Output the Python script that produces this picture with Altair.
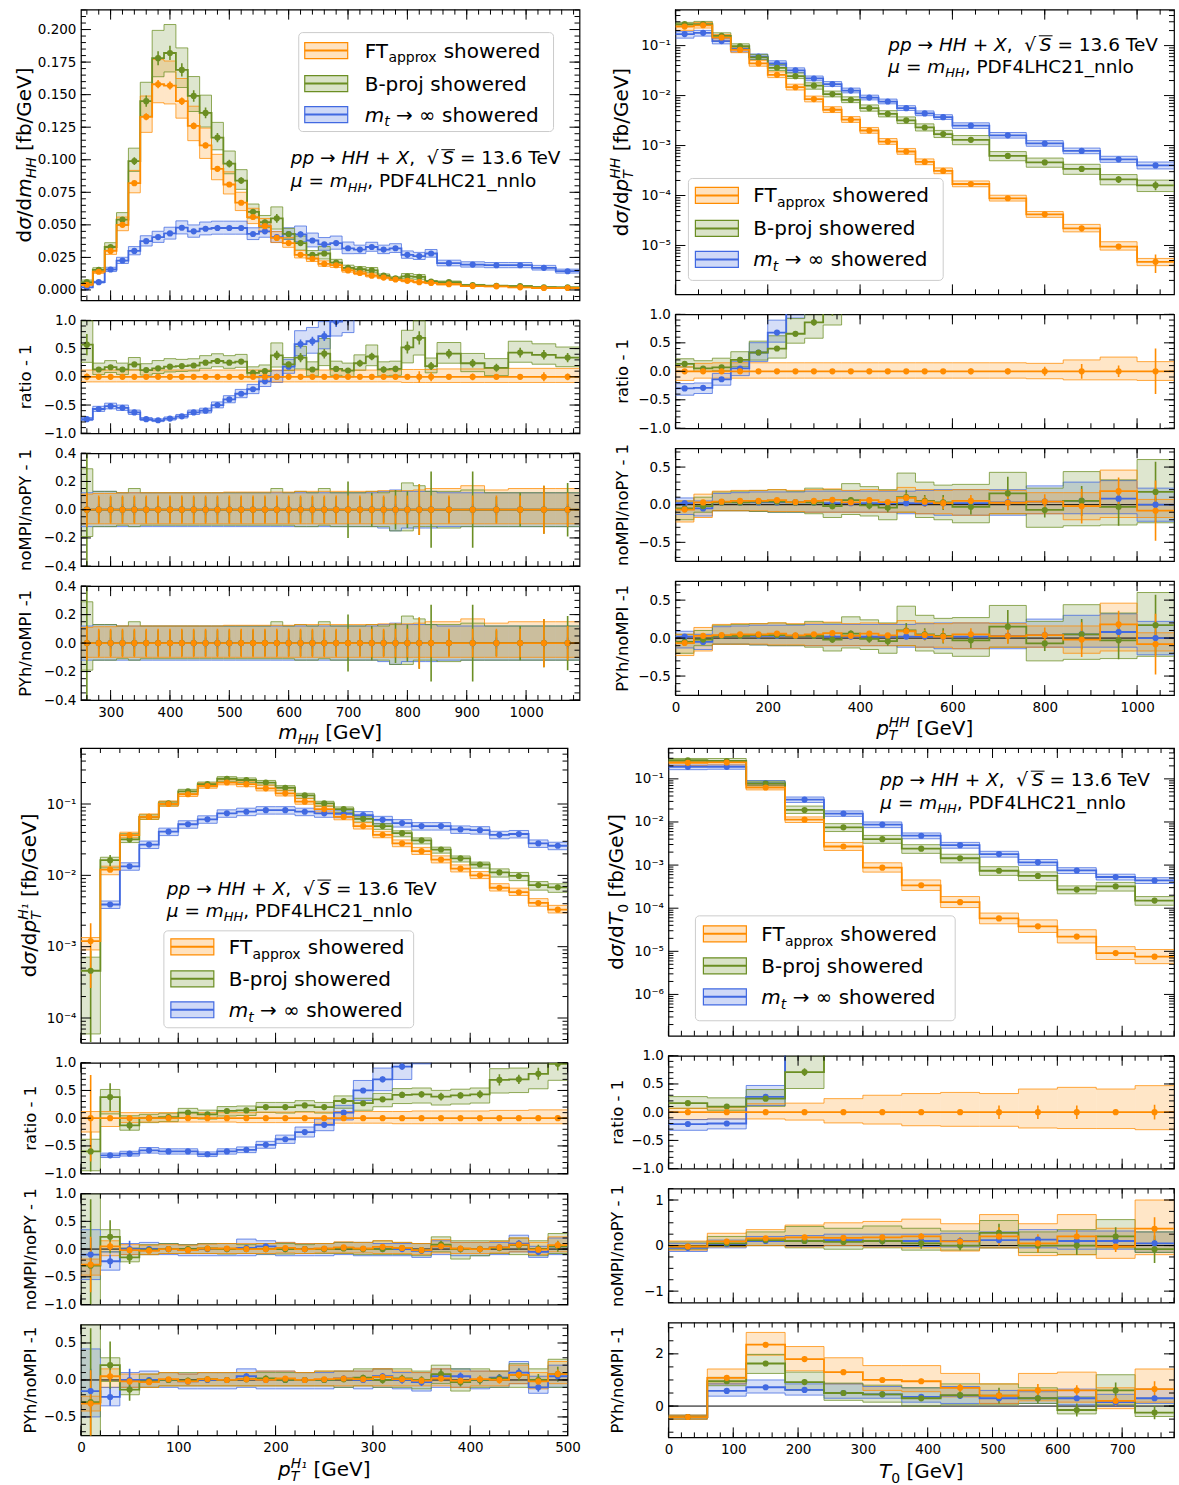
import altair as alt
import pandas as pd

FONT = "DejaVu Sans"
ORANGE, GREEN, BLUE = "#ff8c00", "#6b8e23", "#4169e1"
ORDER = ["mt", "bp", "ft"]
CMAP = {"ft": ORANGE, "bp": GREEN, "mt": BLUE}

# ======================= m_HH =======================
mhh_edges = [250, 270, 290, 310, 330, 350, 370, 390, 410, 430,
             450, 470, 490, 510, 530, 550, 570, 590, 610, 630,
             650, 670, 690, 710, 730, 750, 770, 790, 810, 830,
             850, 890, 930, 970, 1010, 1050, 1090]
mhh_ft = [0.004, 0.014, 0.030, 0.050, 0.082, 0.133, 0.158, 0.157, 0.145, 0.126,
          0.111, 0.093, 0.081, 0.067, 0.056, 0.049, 0.040, 0.036, 0.027, 0.024,
          0.020, 0.019, 0.015, 0.013, 0.011, 0.0095, 0.008, 0.007, 0.006, 0.0054,
          0.0044, 0.0030, 0.0028, 0.0020, 0.0015, 0.0015]
mhh_bp = [0.006, 0.0155, 0.033, 0.054, 0.099, 0.145, 0.178, 0.182, 0.169, 0.149,
          0.136, 0.117, 0.097, 0.084, 0.060, 0.052, 0.055, 0.043, 0.036, 0.027,
          0.028, 0.021, 0.017, 0.016, 0.015, 0.011, 0.009, 0.0105, 0.010, 0.0065,
          0.0060, 0.0037, 0.0032, 0.0029, 0.0021, 0.0020]
mhh_mt = [0.002, 0.006, 0.0157, 0.0226, 0.030, 0.0375, 0.0406, 0.0434, 0.0478, 0.045,
          0.047, 0.0476, 0.0476, 0.0476, 0.043, 0.045, 0.0406, 0.043, 0.0427, 0.038,
          0.035, 0.036, 0.032, 0.031, 0.033, 0.031, 0.032, 0.027, 0.026, 0.028,
          0.0206, 0.0195, 0.019, 0.019, 0.017, 0.0144]
mhh_r_ft = [0.0, 0.0, 0.0, 0.0, 0.0, 0.0, 0.0, 0.0, 0.0, 0.0,
            0.0, 0.0, 0.0, 0.0, 0.0, 0.0, 0.0, 0.0, 0.0, 0.0,
            0.0, 0.0, 0.0, 0.0, 0.0, 0.0, 0.0, 0.0, 0.0, 0.0,
            0.0, 0.0, 0.0, 0.0, 0.0, 0.0]
mhh_r_bp = [0.57, 0.13, 0.17, 0.13, 0.22, 0.12, 0.15, 0.18, 0.19, 0.20,
            0.25, 0.28, 0.25, 0.27, 0.07, 0.10, 0.38, 0.22, 0.34, 0.13,
            0.41, 0.14, 0.11, 0.24, 0.36, 0.13, 0.14, 0.52, 0.69, 0.19,
            0.41, 0.24, 0.16, 0.43, 0.39, 0.34]
mhh_r_mt = [-0.75, -0.57, -0.52, -0.55, -0.63, -0.75, -0.77, -0.74, -0.70, -0.63,
            -0.60, -0.50, -0.40, -0.30, -0.22, -0.08, 0.00, 0.18, 0.58, 0.63,
            0.72, 0.98, 1.05, 1.40, 2.00, 2.30, 3.00, 2.90, 3.30, 4.20,
            3.70, 5.50, 5.80, 8.50, 10.3, 8.60]
mhh_ft_lo = [-0.09, -0.09, -0.09, -0.09, -0.09, -0.09, -0.09, -0.09, -0.09, -0.09,
             -0.09, -0.09, -0.09, -0.09, -0.09, -0.09, -0.09, -0.09, -0.09, -0.09,
             -0.09, -0.09, -0.09, -0.09, -0.09, -0.09, -0.09, -0.10, -0.10, -0.10,
             -0.10, -0.10, -0.10, -0.10, -0.10, -0.10]
mhh_ft_hi = [0.12, 0.12, 0.12, 0.12, 0.12, 0.12, 0.12, 0.12, 0.12, 0.12,
             0.12, 0.12, 0.12, 0.12, 0.12, 0.12, 0.12, 0.12, 0.12, 0.12,
             0.12, 0.12, 0.12, 0.12, 0.12, 0.12, 0.12, 0.13, 0.13, 0.13,
             0.14, 0.14, 0.15, 0.15, 0.15, 0.15]
mhh_bp_lo = [-0.20, -0.08, -0.08, -0.08, -0.08, -0.08, -0.08, -0.08, -0.08, -0.08,
             -0.08, -0.08, -0.08, -0.08, -0.08, -0.08, -0.15, -0.09, -0.15, -0.10,
             -0.15, -0.10, -0.10, -0.10, -0.12, -0.10, -0.10, -0.18, -0.18, -0.10,
             -0.12, -0.12, -0.12, -0.12, -0.12, -0.12]
mhh_bp_hi = [0.27, 0.10, 0.10, 0.10, 0.10, 0.10, 0.12, 0.12, 0.10, 0.10,
             0.10, 0.10, 0.10, 0.10, 0.10, 0.10, 0.16, 0.10, 0.15, 0.12,
             0.19, 0.12, 0.12, 0.12, 0.15, 0.12, 0.12, 0.20, 0.18, 0.12,
             0.14, 0.14, 0.14, 0.14, 0.14, 0.14]
mhh_mt_lo = [-0.10, -0.10, -0.10, -0.10, -0.10, -0.10, -0.10, -0.10, -0.10, -0.10,
             -0.10, -0.10, -0.10, -0.10, -0.10, -0.10, -0.10, -0.10, -0.13, -0.13,
             -0.13, -0.13, -0.13, -0.10, -0.10, -0.10, -0.10, -0.10, -0.10, -0.10,
             -0.10, -0.10, -0.10, -0.10, -0.10, -0.10]
mhh_mt_hi = [0.11, 0.11, 0.11, 0.11, 0.11, 0.11, 0.11, 0.11, 0.11, 0.11,
             0.11, 0.11, 0.11, 0.11, 0.11, 0.11, 0.11, 0.11, 0.15, 0.15,
             0.15, 0.15, 0.15, 0.11, 0.11, 0.11, 0.11, 0.11, 0.11, 0.11,
             0.11, 0.11, 0.11, 0.11, 0.11, 0.11]
mhh_ft_e = [0.06, 0.03, 0.02, 0.02, 0.02, 0.02, 0.02, 0.02, 0.02, 0.02,
            0.02, 0.02, 0.02, 0.02, 0.02, 0.02, 0.02, 0.02, 0.02, 0.02,
            0.02, 0.02, 0.03, 0.03, 0.03, 0.03, 0.03, 0.04, 0.10, 0.08,
            0.03, 0.06, 0.03, 0.04, 0.08, 0.06]
mhh_bp_e = [0.12, 0.04, 0.03, 0.03, 0.03, 0.03, 0.03, 0.03, 0.03, 0.03,
            0.03, 0.03, 0.03, 0.03, 0.03, 0.04, 0.06, 0.04, 0.06, 0.04,
            0.06, 0.04, 0.04, 0.05, 0.05, 0.05, 0.05, 0.07, 0.07, 0.06,
            0.06, 0.06, 0.06, 0.06, 0.06, 0.06]
mhh_mt_e = [0.05, 0.03, 0.02, 0.02, 0.02, 0.02, 0.02, 0.02, 0.02, 0.02,
            0.02, 0.02, 0.02, 0.02, 0.02, 0.02, 0.02, 0.02, 0.05, 0.05,
            0.05, 0.05, 0.05, 0.03, 0.03, 0.03, 0.03, 0.03, 0.03, 0.03,
            0.03, 0.03, 0.03, 0.03, 0.03, 0.03]
# noMPI/noPY and PYh/noMPI (identical within reading precision)
mhh_n_c = [0.0, 0.0, 0.0, 0.0, 0.0, 0.0, 0.0, 0.0, 0.0, 0.0,
           0.0, 0.0, 0.0, 0.0, 0.0, 0.0, 0.0, 0.0, 0.0, 0.0,
           0.0, 0.0, 0.0, 0.0, 0.0, 0.0, 0.0, 0.0, 0.0, 0.0,
           0.0, 0.0, 0.0, 0.0, 0.0, 0.0]
mhh_n_ft_lo = [-0.10, -0.10, -0.10, -0.10, -0.10, -0.10, -0.10, -0.10, -0.10, -0.10,
               -0.10, -0.10, -0.10, -0.10, -0.10, -0.10, -0.10, -0.10, -0.10, -0.10,
               -0.10, -0.10, -0.10, -0.10, -0.10, -0.10, -0.10, -0.10, -0.10, -0.10,
               -0.10, -0.10, -0.10, -0.10, -0.10, -0.10]
mhh_n_ft_hi = [0.11, 0.115, 0.115, 0.12, 0.12, 0.12, 0.12, 0.12, 0.12, 0.12,
               0.12, 0.12, 0.125, 0.125, 0.125, 0.125, 0.125, 0.125, 0.13, 0.13,
               0.13, 0.13, 0.13, 0.13, 0.13, 0.135, 0.135, 0.135, 0.14, 0.15,
               0.15, 0.17, 0.14, 0.15, 0.15, 0.15]
mhh_n_ft_e = [0.12, 0.10, 0.10, 0.10, 0.10, 0.10, 0.10, 0.10, 0.10, 0.10,
              0.10, 0.10, 0.10, 0.10, 0.10, 0.10, 0.10, 0.10, 0.10, 0.10,
              0.10, 0.10, 0.10, 0.10, 0.10, 0.10, 0.10, 0.10, 0.18, 0.10,
              0.10, 0.10, 0.10, 0.10, 0.17, 0.12]
mhh_n_bp_lo = [-0.19, -0.12, -0.12, -0.11, -0.12, -0.11, -0.11, -0.11, -0.11, -0.11,
               -0.11, -0.11, -0.11, -0.11, -0.11, -0.11, -0.11, -0.11, -0.12, -0.12,
               -0.11, -0.12, -0.12, -0.12, -0.12, -0.12, -0.15, -0.15, -0.12, -0.12,
               -0.13, -0.12, -0.12, -0.12, -0.12, -0.12]
mhh_n_bp_hi = [0.29, 0.13, 0.13, 0.12, 0.15, 0.12, 0.12, 0.12, 0.12, 0.12,
               0.12, 0.12, 0.12, 0.12, 0.12, 0.12, 0.15, 0.12, 0.13, 0.12,
               0.15, 0.12, 0.12, 0.12, 0.13, 0.12, 0.13, 0.19, 0.17, 0.13,
               0.13, 0.14, 0.12, 0.12, 0.12, 0.12]
mhh_n_bp_e = [0.60, 0.09, 0.09, 0.09, 0.09, 0.09, 0.09, 0.09, 0.09, 0.09,
              0.09, 0.09, 0.09, 0.09, 0.09, 0.09, 0.09, 0.09, 0.09, 0.09,
              0.09, 0.09, 0.20, 0.09, 0.12, 0.09, 0.14, 0.13, 0.18, 0.27,
              0.09, 0.27, 0.09, 0.12, 0.17, 0.19]
mhh_n_mt_lo = [-0.12, -0.12, -0.12, -0.12, -0.12, -0.12, -0.12, -0.12, -0.12, -0.12,
               -0.12, -0.12, -0.12, -0.12, -0.12, -0.12, -0.12, -0.12, -0.12, -0.12,
               -0.12, -0.12, -0.12, -0.12, -0.12, -0.13, -0.15, -0.13, -0.13, -0.13,
               -0.12, -0.12, -0.12, -0.12, -0.12, -0.12]
mhh_n_mt_hi = [0.12, 0.13, 0.13, 0.12, 0.12, 0.12, 0.12, 0.12, 0.12, 0.12,
               0.12, 0.12, 0.12, 0.12, 0.12, 0.12, 0.12, 0.12, 0.12, 0.12,
               0.12, 0.12, 0.12, 0.12, 0.12, 0.13, 0.14, 0.13, 0.13, 0.13,
               0.12, 0.12, 0.12, 0.12, 0.12, 0.12]
mhh_n_mt_e = [0.05, 0.04, 0.04, 0.04, 0.04, 0.04, 0.04, 0.04, 0.04, 0.04,
              0.04, 0.04, 0.04, 0.04, 0.04, 0.04, 0.04, 0.04, 0.04, 0.04,
              0.04, 0.04, 0.04, 0.04, 0.04, 0.04, 0.04, 0.04, 0.04, 0.04,
              0.04, 0.04, 0.04, 0.04, 0.04, 0.04]

# ======================= pT^HH =======================
pthh_edges = [0, 40, 80, 120, 160, 200, 240, 280, 320, 360, 400, 440, 480, 520, 560, 600,
              680, 760, 840, 920, 1000, 1080]
pthh_ft = [0.24, 0.255, 0.145, 0.082, 0.044, 0.026, 0.0147, 0.0085, 0.0052, 0.0033,
           0.0020, 0.0012, 0.00076, 0.00047, 0.00031, 0.00017, 8.8e-5, 4.2e-5, 2.2e-5, 9.5e-6,
           4.7e-6]
pthh_bp = [0.27, 0.27, 0.157, 0.097, 0.058, 0.036, 0.0245, 0.0158, 0.0107, 0.0082,
           0.0056, 0.0043, 0.0032, 0.0023, 0.0017, 0.0013, 0.00062, 0.00046, 0.00034, 0.00021,
           0.00016]
pthh_mt = [0.17, 0.18, 0.123, 0.085, 0.060, 0.044, 0.032, 0.022, 0.017, 0.0126,
           0.0091, 0.0076, 0.0056, 0.0044, 0.0037, 0.0025, 0.0016, 0.0011, 0.00078, 0.00053,
           0.0004]
pthh_r_ft = [0.0, 0.0, 0.0, 0.0, 0.0, 0.0, 0.0, 0.0, 0.0, 0.0,
             0.0, 0.0, 0.0, 0.0, 0.0, 0.0, 0.0, 0.0, 0.0, 0.0, 0.0]
pthh_r_bp = [0.13, 0.05, 0.07, 0.20, 0.33, 0.40, 0.66, 0.86, 1.06, 1.5,
             1.8, 2.6, 3.2, 3.9, 4.5, 6.6, 6.0, 10.0, 14.5, 21.0, 33.0]
pthh_r_mt = [-0.30, -0.29, -0.14, 0.05, 0.33, 0.68, 1.15, 1.6, 2.3, 2.8,
             3.5, 5.3, 6.4, 8.4, 11.0, 13.7, 17.0, 25.0, 34.0, 55.0, 84.0]
pthh_ft_lo = [-0.16, -0.12, -0.12, -0.12, -0.12, -0.12, -0.12, -0.12, -0.12, -0.12,
              -0.12, -0.12, -0.12, -0.12, -0.12, -0.12, -0.12, -0.13, -0.15, -0.15, -0.16]
pthh_ft_hi = [0.08, 0.14, 0.15, 0.15, 0.15, 0.15, 0.15, 0.15, 0.15, 0.15,
              0.15, 0.15, 0.15, 0.15, 0.15, 0.15, 0.15, 0.14, 0.20, 0.25, 0.17]
pthh_bp_lo = [-0.05, -0.05, -0.05, -0.10, -0.10, -0.12, -0.10, -0.15, -0.12, -0.12,
              -0.13, -0.13, -0.14, -0.15, -0.15, -0.20, -0.20, -0.20, -0.22, -0.22, -0.25]
pthh_bp_hi = [0.08, 0.13, 0.15, 0.12, 0.15, 0.16, 0.16, 0.14, 0.15, 0.15,
              0.16, 0.16, 0.17, 0.18, 0.18, 0.22, 0.22, 0.22, 0.24, 0.25, 0.27]
pthh_mt_lo = [-0.17, -0.14, -0.12, -0.12, -0.12, -0.10, -0.10, -0.10, -0.10, -0.10,
              -0.10, -0.10, -0.10, -0.10, -0.10, -0.12, -0.12, -0.12, -0.12, -0.13, -0.15]
pthh_mt_hi = [0.12, 0.12, 0.12, 0.12, 0.13, 0.13, 0.12, 0.12, 0.12, 0.12,
              0.12, 0.12, 0.12, 0.12, 0.12, 0.14, 0.14, 0.14, 0.14, 0.15, 0.17]
pthh_ft_e = [0.02, 0.02, 0.02, 0.02, 0.02, 0.02, 0.02, 0.02, 0.02, 0.02,
             0.02, 0.02, 0.02, 0.02, 0.02, 0.05, 0.05, 0.08, 0.13, 0.10, 0.40]
pthh_bp_e = [0.02, 0.02, 0.02, 0.02, 0.02, 0.03, 0.03, 0.03, 0.04, 0.04,
             0.05, 0.05, 0.05, 0.06, 0.06, 0.07, 0.08, 0.08, 0.10, 0.15, 0.20]
pthh_mt_e = [0.02, 0.02, 0.02, 0.02, 0.02, 0.02, 0.02, 0.02, 0.02, 0.02,
             0.02, 0.02, 0.02, 0.03, 0.03, 0.03, 0.03, 0.03, 0.04, 0.04, 0.04]
pthh_n_ft_c = [-0.065, 0.03, 0.04, 0.05, 0.05, 0.06, 0.035, 0.05, 0.065, 0.03,
               0.06, 0.035, 0.09, 0.04, 0.02, 0.05, 0.026, 0.04, -0.02, 0.18, -0.08]
pthh_n_ft_lo = [-0.23, -0.17, -0.08, -0.08, -0.08, -0.09, -0.09, -0.10, -0.10, -0.10,
                -0.10, -0.10, -0.10, -0.12, -0.12, -0.14, -0.12, -0.12, -0.20, -0.17, -0.17]
pthh_n_ft_hi = [0.05, 0.14, 0.18, 0.19, 0.19, 0.20, 0.19, 0.20, 0.21, 0.19,
                0.20, 0.19, 0.23, 0.20, 0.19, 0.20, 0.19, 0.16, 0.16, 0.46, 0.07]
pthh_n_ft_e = [0.03, 0.02, 0.02, 0.02, 0.02, 0.02, 0.02, 0.02, 0.03, 0.03,
               0.03, 0.03, 0.06, 0.07, 0.08, 0.08, 0.10, 0.10, 0.23, 0.18, 0.40]
pthh_n_bp_c = [-0.05, -0.02, 0.03, 0.03, 0.04, 0.04, 0.03, 0.03, -0.02, 0.06,
               -0.01, -0.04, 0.10, 0.05, 0.03, -0.03, 0.15, -0.07, 0.05, -0.03, 0.17]
pthh_n_bp_lo = [-0.20, -0.10, -0.08, -0.08, -0.09, -0.10, -0.10, -0.12, -0.17, -0.13,
                -0.15, -0.20, -0.10, -0.17, -0.20, -0.24, -0.12, -0.30, -0.28, -0.27, -0.24]
pthh_n_bp_hi = [0.05, 0.10, 0.17, 0.18, 0.19, 0.20, 0.18, 0.22, 0.20, 0.28,
                0.24, 0.20, 0.42, 0.30, 0.26, 0.27, 0.43, 0.22, 0.44, 0.33, 0.60]
pthh_n_bp_e = [0.03, 0.02, 0.02, 0.02, 0.02, 0.03, 0.03, 0.03, 0.04, 0.04,
               0.05, 0.06, 0.10, 0.08, 0.10, 0.10, 0.22, 0.10, 0.20, 0.25, 0.40]
pthh_n_mt_c = [0.02, -0.05, 0.03, 0.03, 0.03, 0.03, 0.03, 0.03, 0.02, 0.02,
               0.02, 0.02, 0.02, 0.02, 0.02, 0.02, 0.03, 0.04, 0.05, 0.08, 0.00]
pthh_n_mt_lo = [-0.13, -0.15, -0.08, -0.08, -0.09, -0.10, -0.10, -0.10, -0.10, -0.10,
                -0.10, -0.10, -0.12, -0.12, -0.14, -0.14, -0.14, -0.12, -0.12, -0.12, -0.22]
pthh_n_mt_hi = [0.09, 0.05, 0.15, 0.16, 0.17, 0.17, 0.17, 0.18, 0.18, 0.18,
                0.18, 0.18, 0.18, 0.19, 0.20, 0.20, 0.20, 0.25, 0.30, 0.32, 0.22]
pthh_n_mt_e = [0.02, 0.02, 0.02, 0.02, 0.02, 0.02, 0.02, 0.02, 0.02, 0.02,
               0.03, 0.03, 0.03, 0.03, 0.04, 0.04, 0.05, 0.05, 0.06, 0.08, 0.10]

# ======================= pT^H1 =======================
pth1_edges = [0, 20, 40, 60, 80, 100, 120, 140, 160, 180, 200, 220, 240, 260, 280,
              300, 320, 340, 360, 380, 400, 420, 440, 460, 480, 500]
pth1_ft = [0.0012, 0.012, 0.0366, 0.066, 0.100, 0.137, 0.179, 0.200, 0.190, 0.166,
           0.141, 0.108, 0.085, 0.066, 0.049, 0.037, 0.028, 0.0218, 0.0166, 0.0124,
           0.0100, 0.0067, 0.0058, 0.0041, 0.0033]
pth1_bp = [0.00046, 0.0163, 0.032, 0.066, 0.102, 0.150, 0.190, 0.226, 0.217, 0.200,
           0.169, 0.132, 0.102, 0.085, 0.062, 0.049, 0.039, 0.031, 0.023, 0.0173,
           0.0142, 0.0110, 0.0098, 0.0073, 0.0068]
pth1_mt = [None, 0.0039, 0.0134, 0.027, 0.041, 0.052, 0.061, 0.074, 0.078, 0.082,
           0.082, 0.078, 0.074, 0.073, 0.070, 0.060, 0.054, 0.049, 0.049, 0.044,
           0.043, 0.037, 0.038, 0.028, 0.026]
pth1_r_ft = [0.0, 0.0, 0.0, 0.0, 0.0, 0.0, 0.0, 0.0, 0.0, 0.0,
             0.0, 0.0, 0.0, 0.0, 0.0, 0.0, 0.0, 0.0, 0.0, 0.0,
             0.0, 0.0, 0.0, 0.0, 0.0]
pth1_r_bp = [-0.60, 0.38, -0.13, 0.00, 0.02, 0.10, 0.07, 0.13, 0.14, 0.20,
             0.20, 0.23, 0.20, 0.31, 0.27, 0.34, 0.42, 0.43, 0.39, 0.41,
             0.43, 0.69, 0.70, 0.80, 0.98]
pth1_r_mt = [None, -0.67, -0.64, -0.58, -0.60, -0.60, -0.65, -0.60, -0.57, -0.48,
             -0.38, -0.25, -0.12, 0.10, 0.50, 0.70, 0.93, 1.25, 1.95, 2.5,
             3.3, 4.5, 5.5, 5.8, 6.9]
pth1_ft_lo = [-0.25, -0.15, -0.08, -0.07, -0.07, -0.07, -0.07, -0.07, -0.08, -0.08,
              -0.08, -0.08, -0.09, -0.09, -0.09, -0.09, -0.10, -0.10, -0.10, -0.10,
              -0.10, -0.10, -0.10, -0.10, -0.10]
pth1_ft_hi = [0.12, 0.12, 0.10, 0.10, 0.10, 0.10, 0.10, 0.10, 0.10, 0.11,
              0.11, 0.11, 0.11, 0.12, 0.12, 0.12, 0.12, 0.13, 0.13, 0.13,
              0.13, 0.14, 0.14, 0.15, 0.15]
pth1_bp_lo = [-0.87, -0.22, -0.10, -0.08, -0.08, -0.08, -0.08, -0.08, -0.08, -0.08,
              -0.09, -0.09, -0.09, -0.10, -0.10, -0.10, -0.11, -0.11, -0.11, -0.11,
              -0.11, -0.14, -0.14, -0.15, -0.15]
pth1_bp_hi = [0.55, 0.10, 0.20, 0.07, 0.07, 0.07, 0.07, 0.07, 0.07, 0.07,
              0.07, 0.07, 0.07, 0.07, 0.07, 0.08, 0.08, 0.08, 0.08, 0.08,
              0.08, 0.12, 0.12, 0.12, 0.12]
pth1_mt_lo = [-0.12, -0.12, -0.12, -0.12, -0.12, -0.12, -0.12, -0.12, -0.12, -0.12,
              -0.12, -0.12, -0.12, -0.12, -0.12, -0.12, -0.12, -0.12, -0.12, -0.12,
              -0.12, -0.12, -0.12, -0.12, -0.12]
pth1_mt_hi = [0.12, 0.12, 0.12, 0.12, 0.12, 0.12, 0.12, 0.12, 0.12, 0.12,
              0.12, 0.12, 0.12, 0.12, 0.12, 0.12, 0.12, 0.12, 0.12, 0.12,
              0.12, 0.12, 0.12, 0.12, 0.12]
pth1_ft_e = [0.78, 0.05, 0.02, 0.02, 0.02, 0.02, 0.02, 0.02, 0.02, 0.02,
             0.02, 0.02, 0.02, 0.02, 0.02, 0.02, 0.02, 0.03, 0.03, 0.03,
             0.03, 0.03, 0.03, 0.05, 0.03]
pth1_bp_e = [0.90, 0.18, 0.10, 0.04, 0.03, 0.04, 0.03, 0.03, 0.03, 0.03,
             0.03, 0.03, 0.03, 0.03, 0.03, 0.03, 0.04, 0.04, 0.05, 0.04,
             0.05, 0.06, 0.05, 0.06, 0.06]
pth1_mt_e = [0.10, 0.06, 0.03, 0.03, 0.03, 0.03, 0.03, 0.03, 0.03, 0.03,
             0.03, 0.03, 0.03, 0.03, 0.03, 0.03, 0.03, 0.03, 0.03, 0.03,
             0.03, 0.03, 0.03, 0.04, 0.04]
pth1_n_ft_c = [-0.28, 0.05, -0.02, -0.03, 0.00, -0.02, 0.01, 0.01, 0.00, 0.00,
               0.02, 0.00, 0.01, 0.03, 0.01, 0.04, 0.02, -0.02, 0.05, 0.01,
               0.00, 0.03, 0.08, -0.01, 0.07]
pth1_n_ft_lo = [-0.47, -0.12, -0.10, -0.10, -0.08, -0.08, -0.08, -0.08, -0.08, -0.08,
                -0.07, -0.08, -0.07, -0.07, -0.07, -0.08, -0.08, -0.10, -0.07, -0.08,
                -0.08, -0.07, -0.05, -0.10, -0.05]
pth1_n_ft_hi = [-0.18, 0.15, 0.08, 0.07, 0.08, 0.07, 0.09, 0.10, 0.10, 0.10,
                0.12, 0.10, 0.10, 0.13, 0.12, 0.15, 0.12, 0.10, 0.17, 0.12,
                0.12, 0.14, 0.20, 0.12, 0.22]
pth1_n_ft_e = [0.50, 0.08, 0.05, 0.04, 0.04, 0.04, 0.04, 0.04, 0.04, 0.04,
               0.04, 0.04, 0.04, 0.04, 0.04, 0.04, 0.04, 0.05, 0.05, 0.05,
               0.05, 0.05, 0.06, 0.06, 0.07]
pth1_n_bp_c = [-0.30, 0.22, -0.15, -0.02, 0.00, 0.00, 0.01, 0.00, 0.00, 0.00,
               0.00, 0.00, 0.00, 0.01, 0.00, 0.00, 0.02, -0.02, 0.08, 0.00,
               0.00, 0.02, 0.07, 0.00, 0.05]
pth1_n_bp_lo = [-1.20, -0.05, -0.23, -0.10, -0.08, -0.08, -0.08, -0.09, -0.08, -0.09,
                -0.09, -0.08, -0.08, -0.08, -0.10, -0.10, -0.10, -0.12, -0.05, -0.18,
                -0.12, -0.08, -0.10, -0.12, -0.08]
pth1_n_bp_hi = [1.20, 0.35, 0.02, 0.08, 0.10, 0.08, 0.10, 0.10, 0.08, 0.10,
                0.10, 0.08, 0.10, 0.12, 0.12, 0.15, 0.12, 0.10, 0.22, 0.15,
                0.15, 0.15, 0.20, 0.15, 0.28]
pth1_n_bp_e = [1.20, 0.30, 0.12, 0.04, 0.04, 0.04, 0.04, 0.04, 0.04, 0.04,
               0.04, 0.04, 0.04, 0.04, 0.04, 0.05, 0.05, 0.05, 0.07, 0.06,
               0.06, 0.06, 0.08, 0.08, 0.10]
pth1_n_mt_c = [-0.10, -0.22, 0.00, 0.00, 0.00, -0.02, 0.00, 0.00, 0.02, 0.05,
               0.00, 0.00, 0.00, 0.02, 0.00, 0.00, 0.00, -0.03, 0.05, 0.00,
               0.00, 0.03, 0.10, -0.05, 0.05]
pth1_n_mt_lo = [-0.55, -0.38, -0.10, -0.10, -0.10, -0.12, -0.12, -0.12, -0.12, -0.10,
                -0.12, -0.12, -0.12, -0.10, -0.12, -0.12, -0.12, -0.15, -0.10, -0.12,
                -0.12, -0.10, -0.05, -0.15, -0.10]
pth1_n_mt_hi = [0.35, -0.05, 0.10, 0.12, 0.10, 0.08, 0.10, 0.10, 0.18, 0.15,
                0.12, 0.10, 0.10, 0.12, 0.12, 0.10, 0.10, 0.10, 0.15, 0.12,
                0.12, 0.12, 0.25, 0.05, 0.20]
pth1_n_mt_e = [0.30, 0.12, 0.15, 0.04, 0.04, 0.04, 0.04, 0.04, 0.04, 0.04,
               0.04, 0.04, 0.04, 0.04, 0.04, 0.04, 0.05, 0.05, 0.05, 0.05,
               0.05, 0.05, 0.06, 0.06, 0.07]
pth1_p_ft_c = [-0.32, 0.05, -0.02, -0.03, 0.01, -0.02, 0.01, 0.00, 0.01, 0.00,
               0.02, 0.00, 0.01, 0.02, 0.01, 0.04, 0.01, -0.01, 0.02, -0.01,
               0.01, 0.00, 0.07, -0.02, 0.08]
pth1_p_ft_lo = [-0.42, -0.10, -0.10, -0.10, -0.08, -0.08, -0.08, -0.08, -0.08, -0.08,
                -0.08, -0.08, -0.08, -0.08, -0.08, -0.08, -0.08, -0.08, -0.08, -0.10,
                -0.08, -0.08, -0.05, -0.12, -0.05]
pth1_p_ft_hi = [-0.22, 0.15, 0.08, 0.08, 0.10, 0.08, 0.10, 0.10, 0.10, 0.12,
                0.12, 0.10, 0.12, 0.12, 0.12, 0.15, 0.12, 0.10, 0.15, 0.12,
                0.12, 0.12, 0.20, 0.10, 0.25]
pth1_p_ft_e = [0.45, 0.08, 0.04, 0.03, 0.03, 0.03, 0.03, 0.03, 0.03, 0.03,
               0.03, 0.03, 0.03, 0.03, 0.03, 0.03, 0.04, 0.04, 0.04, 0.04,
               0.04, 0.05, 0.05, 0.06, 0.06]
pth1_p_bp_c = [-0.30, 0.20, -0.13, -0.02, 0.00, -0.01, 0.01, 0.00, 0.01, 0.02,
               0.00, 0.00, 0.00, 0.01, 0.03, 0.00, 0.02, 0.00, 0.08, -0.03,
               0.00, 0.02, 0.07, 0.00, 0.08]
pth1_p_bp_lo = [-0.95, -0.02, -0.20, -0.10, -0.08, -0.08, -0.08, -0.08, -0.08, -0.08,
                -0.08, -0.08, -0.08, -0.10, -0.08, -0.10, -0.10, -0.12, -0.05, -0.15,
                -0.10, -0.10, -0.10, -0.10, -0.10]
pth1_p_bp_hi = [0.95, 0.30, 0.00, 0.08, 0.10, 0.10, 0.10, 0.10, 0.10, 0.10,
                0.10, 0.10, 0.12, 0.12, 0.15, 0.15, 0.15, 0.12, 0.20, 0.15,
                0.15, 0.12, 0.22, 0.15, 0.28]
pth1_p_bp_e = [1.00, 0.32, 0.15, 0.04, 0.04, 0.04, 0.04, 0.04, 0.04, 0.04,
               0.04, 0.04, 0.04, 0.04, 0.04, 0.05, 0.05, 0.05, 0.07, 0.06,
               0.06, 0.06, 0.08, 0.08, 0.10]
pth1_p_mt_c = [-0.15, -0.23, 0.00, 0.00, 0.00, -0.02, 0.00, 0.00, 0.05, 0.00,
               0.00, 0.00, 0.00, 0.02, 0.00, 0.05, 0.00, -0.03, 0.05, 0.05,
               0.00, 0.03, 0.10, -0.10, 0.05]
pth1_p_mt_lo = [-0.50, -0.35, -0.10, -0.10, -0.10, -0.12, -0.12, -0.12, -0.10, -0.12,
                -0.12, -0.12, -0.12, -0.10, -0.12, -0.10, -0.12, -0.15, -0.10, -0.10,
                -0.12, -0.10, -0.05, -0.18, -0.10]
pth1_p_mt_hi = [0.42, -0.10, 0.10, 0.12, 0.10, 0.08, 0.10, 0.10, 0.15, 0.12,
                0.12, 0.10, 0.10, 0.12, 0.12, 0.15, 0.10, 0.10, 0.15, 0.15,
                0.12, 0.12, 0.25, 0.05, 0.20]
pth1_p_mt_e = [0.30, 0.12, 0.15, 0.04, 0.04, 0.04, 0.04, 0.04, 0.04, 0.04,
               0.04, 0.04, 0.04, 0.04, 0.04, 0.04, 0.05, 0.05, 0.05, 0.05,
               0.05, 0.05, 0.06, 0.06, 0.07]

# ======================= T0 =======================
t0_edges = [0, 60, 120, 180, 240, 300, 360, 420, 480, 540, 600, 660, 720, 780]
t0_ft = [0.235, 0.24, 0.063, 0.0113, 0.0027, 0.00087, 0.00034, 0.000138, 5.8e-5, 3.8e-5,
         2.2e-5, 9.1e-6, 7.5e-6]
t0_bp = [0.27, 0.26, 0.078, 0.019, 0.0075, 0.004, 0.0024, 0.00144, 0.00074, 0.00056,
         0.00027, 0.00032, 0.00015]
t0_mt = [0.19, 0.19, 0.079, 0.033, 0.0157, 0.0087, 0.0048, 0.0029, 0.0018, 0.00116,
         0.00075, 0.00053, 0.00044]
t0_r_ft = [0.0, 0.0, 0.0, 0.0, 0.0, 0.0, 0.0, 0.0, 0.0, 0.0, 0.0, 0.0, 0.0]
t0_r_bp = [0.16, 0.10, 0.24, 0.71, 1.8, 3.6, 6.0, 9.4, 11.8, 13.7, 11.3, 34.0, 19.0]
t0_r_mt = [-0.21, -0.20, 0.27, 1.9, 4.8, 9.0, 13.0, 20.0, 30.0, 30.0, 33.0, 57.0, 58.0]
t0_ft_lo = [-0.13, -0.12, -0.12, -0.14, -0.19, -0.21, -0.24, -0.25, -0.25, -0.28, -0.29, -0.29, -0.31]
t0_ft_hi = [0.07, 0.09, 0.15, 0.16, 0.24, 0.30, 0.33, 0.35, 0.33, 0.41, 0.44, 0.41, 0.47]
t0_bp_lo = [-0.08, -0.06, -0.11, -0.17, -0.20, -0.20, -0.22, -0.22, -0.22, -0.22, -0.20, -0.22, -0.22]
t0_bp_hi = [0.10, 0.14, 0.13, 0.23, 0.22, 0.22, 0.24, 0.24, 0.24, 0.24, 0.22, 0.24, 0.24]
t0_mt_lo = [-0.14, -0.12, -0.12, -0.14, -0.14, -0.15, -0.15, -0.15, -0.15, -0.15, -0.15, -0.15, -0.15]
t0_mt_hi = [0.10, 0.10, 0.16, 0.15, 0.15, 0.15, 0.16, 0.16, 0.16, 0.16, 0.16, 0.16, 0.16]
t0_ft_e = [0.02, 0.02, 0.02, 0.02, 0.03, 0.03, 0.03, 0.03, 0.12, 0.12, 0.12, 0.05, 0.13]
t0_bp_e = [0.02, 0.02, 0.03, 0.04, 0.05, 0.05, 0.05, 0.05, 0.08, 0.08, 0.10, 0.10, 0.12]
t0_mt_e = [0.02, 0.02, 0.02, 0.03, 0.03, 0.03, 0.04, 0.04, 0.04, 0.05, 0.05, 0.05, 0.06]
t0_n_ft_c = [-0.02, 0.09, 0.16, 0.18, 0.17, 0.18, 0.20, 0.09, 0.20, 0.05, 0.20, -0.02, 0.37]
t0_n_ft_lo = [-0.10, -0.03, 0.00, -0.03, 0.00, -0.03, -0.05, -0.12, -0.05, -0.22, -0.20, -0.28, -0.20]
t0_n_ft_hi = [0.10, 0.27, 0.35, 0.45, 0.50, 0.53, 0.58, 0.48, 0.68, 0.48, 0.68, 0.38, 1.00]
t0_n_ft_e = [0.05, 0.04, 0.05, 0.06, 0.06, 0.06, 0.07, 0.10, 0.20, 0.20, 0.15, 0.12, 0.25]
t0_n_bp_c = [-0.02, 0.05, 0.12, 0.10, 0.08, 0.10, 0.05, 0.00, 0.28, 0.00, 0.00, 0.20, -0.08]
t0_n_bp_lo = [-0.08, -0.02, 0.00, -0.05, -0.08, -0.05, -0.10, -0.10, -0.05, -0.15, -0.20, -0.05, -0.15]
t0_n_bp_hi = [0.08, 0.20, 0.30, 0.42, 0.38, 0.43, 0.38, 0.32, 0.55, 0.30, 0.35, 0.57, 0.30]
t0_n_bp_e = [0.05, 0.04, 0.05, 0.06, 0.06, 0.08, 0.12, 0.10, 0.20, 0.15, 0.20, 0.20, 0.30]
t0_n_mt_c = [-0.05, 0.03, 0.10, 0.10, 0.12, 0.10, 0.10, 0.10, 0.12, 0.13, 0.10, 0.10, 0.05]
t0_n_mt_lo = [-0.13, -0.05, 0.00, -0.02, 0.00, -0.02, -0.02, -0.03, -0.05, -0.05, -0.08, -0.08, -0.15]
t0_n_mt_hi = [0.05, 0.12, 0.20, 0.22, 0.25, 0.25, 0.25, 0.27, 0.30, 0.35, 0.32, 0.32, 0.30]
t0_n_mt_e = [0.02, 0.02, 0.03, 0.03, 0.04, 0.04, 0.05, 0.05, 0.06, 0.07, 0.08, 0.08, 0.10]
t0_p_ft_c = [-0.42, 1.08, 2.35, 1.80, 1.30, 1.00, 0.95, 0.70, 0.40, 0.60, 0.60, 0.20, 0.65]
t0_p_ft_lo = [-0.50, 0.85, 1.95, 1.35, 0.85, 0.60, 0.55, 0.35, 0.10, 0.20, 0.15, -0.10, 0.15]
t0_p_ft_hi = [-0.35, 1.42, 2.82, 2.28, 1.85, 1.55, 1.55, 1.25, 0.85, 1.25, 1.30, 0.70, 1.42]
t0_p_ft_e = [0.05, 0.08, 0.10, 0.08, 0.08, 0.08, 0.10, 0.15, 0.20, 0.25, 0.20, 0.20, 0.30]
t0_p_bp_c = [-0.42, 0.95, 1.63, 0.92, 0.50, 0.45, 0.30, 0.42, 0.40, 0.30, -0.15, 0.60, -0.25]
t0_p_bp_lo = [-0.50, 0.78, 1.25, 0.60, 0.22, 0.15, 0.00, 0.05, 0.05, 0.10, -0.30, 0.05, -0.40]
t0_p_bp_hi = [-0.35, 1.10, 1.98, 1.30, 0.88, 0.80, 0.70, 0.85, 0.85, 0.70, 0.35, 1.20, 0.30]
t0_p_bp_e = [0.05, 0.08, 0.10, 0.10, 0.10, 0.10, 0.12, 0.15, 0.30, 0.20, 0.25, 0.30, 0.25]
t0_p_mt_c = [-0.42, 0.58, 0.72, 0.62, 0.50, 0.45, 0.35, 0.40, 0.30, 0.30, 0.30, 0.15, 0.30]
t0_p_mt_lo = [-0.50, 0.38, 0.50, 0.42, 0.30, 0.30, 0.15, 0.10, 0.10, 0.10, 0.05, 0.00, 0.10]
t0_p_mt_hi = [-0.35, 0.85, 1.00, 0.85, 0.85, 0.75, 0.70, 0.75, 0.60, 0.55, 0.65, 0.45, 0.65]
t0_p_mt_e = [0.03, 0.06, 0.06, 0.06, 0.06, 0.06, 0.07, 0.08, 0.08, 0.08, 0.10, 0.10, 0.10]

# ======================= helpers =======================
ONE = pd.DataFrame({"k": [0]})
CW = {' ': 0.318, 'a': 0.613, 'b': 0.635, 'c': 0.550, 'd': 0.635, 'e': 0.615, 'f': 0.352,
      'g': 0.635, 'h': 0.634, 'i': 0.278, 'j': 0.278, 'k': 0.579, 'l': 0.278, 'm': 0.974,
      'n': 0.634, 'o': 0.612, 'p': 0.635, 'q': 0.635, 'r': 0.411, 's': 0.521, 't': 0.392,
      'u': 0.634, 'v': 0.592, 'w': 0.818, 'x': 0.592, 'y': 0.592, 'z': 0.525,
      'A': 0.684, 'B': 0.686, 'C': 0.698, 'D': 0.770, 'E': 0.632, 'F': 0.575, 'G': 0.775,
      'H': 0.752, 'I': 0.295, 'L': 0.557, 'M': 0.863, 'N': 0.748, 'P': 0.603, 'S': 0.635,
      'T': 0.611, 'V': 0.684, 'X': 0.686, 'Y': 0.611, '.': 0.318, ',': 0.318, '_': 0.5,
      '=': 0.838, '+': 0.838, '→': 0.838, '∞': 0.833, '√': 0.838, 'μ': 0.636, 'σ': 0.634,
      '[': 0.390, ']': 0.390, '/': 0.337, '-': 0.361, '₁': 0.42}
for _d in "0123456789":
    CW[_d] = 0.636


def tw(s, size):
    return sum(CW.get(ch, 0.6) for ch in s) * size


def rich(parts, x, y, size, angle=0, anchor="start"):
    segs, pos = [], 0.0
    for p in parts:
        t, k = p[0], p[1]
        adv = p[2] if len(p) > 2 else True
        small = k in ("sub", "isub", "sup", "isup")
        fs = size * 0.7 if small else size
        if k in ("sub", "isub"):
            sh = 0.24 * size
        elif k in ("sup", "isup"):
            sh = -0.42 * size
        else:
            sh = 0.0
        lead = len(t) - len(t.lstrip(" "))
        segs.append((t.strip(" "), fs, "italic" if k.startswith("i") else "normal",
                     pos + tw(" " * lead, fs), sh))
        if adv:
            pos += tw(t, fs)
    off = {"start": 0.0, "middle": -pos / 2.0, "end": -pos}[anchor]
    out = []
    for t, fs, st, p0, sh in segs:
        if not t:
            continue
        a = off + p0
        if angle == 0:
            px, py = x + a, y + sh
        else:
            px, py = x + sh, y - a
        out.append(alt.Chart(ONE).mark_text(
            text=t, font=FONT, fontSize=fs, fontStyle=st, align="left",
            baseline="alphabetic", angle=angle, color="black").encode(
            x=alt.value(px), y=alt.value(py)))
    return out


def main_sd(c, lo, hi, e):
    return dict(c=c,
                lo=[None if v is None else v * (1 + a) for v, a in zip(c, lo)],
                hi=[None if v is None else v * (1 + a) for v, a in zip(c, hi)],
                e=[None if v is None else v * x for v, x in zip(c, e)])


def ratio_sd(r, lo, hi, e):
    return dict(c=r,
                lo=[None if v is None else (1 + v) * (1 + a) - 1 for v, a in zip(r, lo)],
                hi=[None if v is None else (1 + v) * (1 + a) - 1 for v, a in zip(r, hi)],
                e=[None if v is None else (1 + v) * x for v, x in zip(r, e)])


def abs_sd(c, lo, hi, e):
    return dict(c=c, lo=lo, hi=hi, e=e)


def frames(edges, sd, ylog):
    rows, steps = [], []
    for s in ORDER:
        d = sd[s]
        last = None
        for i in range(len(edges) - 1):
            if i >= len(d["c"]) or d["c"][i] is None:
                continue
            c, lo, hi, e = d["c"][i], d["lo"][i], d["hi"][i], d["e"][i]
            e0 = c - e
            if ylog:
                e0 = max(e0, c * 0.02)
            rows.append(dict(s=s, x0=edges[i], x1=edges[i + 1],
                             xc=0.5 * (edges[i] + edges[i + 1]),
                             c=c, lo=lo, hi=hi, e0=e0, e1=c + e))
            steps.append(dict(s=s, x=edges[i], c=c, lo=lo, hi=hi))
            last = dict(s=s, x=edges[i + 1], c=c, lo=lo, hi=hi)
        if last is not None:
            steps.append(last)
    return pd.DataFrame(rows), pd.DataFrame(steps)


LOGEXPR = ("datum.value > 0.05 ? '10⁻¹' : datum.value > 0.005 ? '10⁻²' : "
           "datum.value > 0.0005 ? '10⁻³' : datum.value > 0.00005 ? '10⁻⁴' : "
           "datum.value > 0.000005 ? '10⁻⁵' : datum.value > 0.0000005 ? '10⁻⁶' : '10⁻⁷'")


def lin(a, b, step):
    n = int(round((b - a) / step))
    return [round(a + i * step, 6) for i in range(n + 1)]


LOGMAJ = [1e-7, 1e-6, 1e-5, 1e-4, 1e-3, 1e-2, 1e-1]
LOGMIN = [k * 10.0 ** ex for ex in range(-8, 0) for k in range(2, 10)]


def within(vals, dom):
    lo, hi = dom
    return [v for v in vals if lo - abs(lo) * 1e-9 - 1e-12 <= v <= hi + abs(hi) * 1e-9 + 1e-12]


def panel(edges, sd, W, H, xdom, ydom, ylog, xmaj, xmin, ymaj, ymin, yfmt,
          xlabels=False, zero=False, extra=()):
    xs = alt.Scale(domain=xdom, nice=False, zero=False)
    if ylog:
        ys = alt.Scale(type="log", domain=ydom, nice=False)
    else:
        ys = alt.Scale(domain=ydom, nice=False, zero=False)
    bins, steps = frames(edges, sd, ylog)
    col = alt.Color("s:N", scale=alt.Scale(domain=ORDER, range=[CMAP[s] for s in ORDER]),
                    legend=None)
    base = dict(ticks=False, domain=False, grid=False, title=None,
                labelFont=FONT, labelFontSize=13.5, labelColor="black",
                labelOverlap=False, labelPadding=5)
    xmaj_in, xmin_in = within(xmaj, xdom), within(xmin, xdom)
    ymaj_in, ymin_in = within(ymaj, ydom), within(ymin, ydom)
    xaxis = alt.Axis(values=xmaj_in, format="d", labelFlush=False, **base) if xlabels else None
    if yfmt == "log":
        yaxis = alt.Axis(values=ymaj_in, labelExpr=LOGEXPR, **base)
    else:
        yaxis = alt.Axis(values=ymaj_in, format=yfmt, **base)

    def X(f):
        return alt.X(f, scale=xs, axis=xaxis)

    def Y(f):
        return alt.Y(f, scale=ys, axis=yaxis)

    layers = [alt.Chart(bins).mark_rect(fillOpacity=0.22, strokeWidth=0, clip=True).encode(
        x=X("x0:Q"), x2=alt.X2("x1"), y=Y("lo:Q"), y2=alt.Y2("hi"), color=col)]
    if zero:
        layers.append(alt.Chart(pd.DataFrame({"z": [0.0]})).mark_rule(
            color="black", strokeWidth=1).encode(y=Y("z:Q")))
    for f, sw, op in (("lo", 1.0, 0.75), ("hi", 1.0, 0.75), ("c", 1.8, 1.0)):
        layers.append(alt.Chart(steps).mark_line(
            interpolate="step-after", strokeWidth=sw, opacity=op, clip=True).encode(
            x=X("x:Q"), y=Y(f + ":Q"), color=col))
    layers.append(alt.Chart(bins).mark_rule(strokeWidth=1.6, clip=True).encode(
        x=X("xc:Q"), y=Y("e0:Q"), y2=alt.Y2("e1"), color=col))
    layers.append(alt.Chart(bins).mark_circle(size=38, opacity=1, clip=True).encode(
        x=X("xc:Q"), y=Y("c:Q"), color=col))
    # inward ticks on all four sides
    for vals, L in ((xmaj_in, 10), (xmin_in, 5)):
        df = pd.DataFrame({"v": vals})
        for y0, y1 in ((0, L), (H, H - L)):
            layers.append(alt.Chart(df).mark_rule(color="black", strokeWidth=1).encode(
                x=X("v:Q"), y=alt.value(y0), y2=alt.value(y1)))
    for vals, L in ((ymaj_in, 10), (ymin_in, 5)):
        df = pd.DataFrame({"v": vals})
        for x0, x1 in ((0, L), (W, W - L)):
            layers.append(alt.Chart(df).mark_rule(color="black", strokeWidth=1).encode(
                y=Y("v:Q"), x=alt.value(x0), x2=alt.value(x1)))
    layers += list(extra)
    return alt.layer(*layers).properties(width=W, height=H)


LEG_LABELS = {
    "ft": [("FT", "n"), ("approx", "sub"), (" showered", "n")],
    "bp": [("B-proj showered", "n")],
    "mt": [("m", "i"), ("t", "isub"), (" → ∞ showered", "n")],
}


def legend(box, sx, tx, rows, fs=20):
    bx0, by0, bx1, by1 = box
    out = [alt.Chart(ONE).mark_rect(fill="white", fillOpacity=0.85, stroke="#cccccc",
                                    strokeWidth=1, cornerRadius=4).encode(
        x=alt.value(bx0), x2=alt.value(bx1), y=alt.value(by0), y2=alt.value(by1))]
    for s, y in zip(["ft", "bp", "mt"], rows):
        out.append(alt.Chart(ONE).mark_rect(fill=CMAP[s], fillOpacity=0.25, stroke=CMAP[s],
                                            strokeWidth=1.2).encode(
            x=alt.value(sx[0]), x2=alt.value(sx[1]), y=alt.value(y - 8), y2=alt.value(y + 8)))
        out.append(alt.Chart(ONE).mark_rule(color=CMAP[s], strokeWidth=2).encode(
            x=alt.value(sx[0]), x2=alt.value(sx[1]), y=alt.value(y), y2=alt.value(y)))
        out += rich(LEG_LABELS[s], tx, y + 7, fs)
    return out


def annot(x, y1, y2, fs=18.5):
    l1 = [("pp", "i"), (" → ", "n"), ("HH", "i"), (" + ", "n"), ("X", "i"), (",  ", "n"),
          ("√", "n"), ("S", "i"), (" = 13.6 TeV", "n")]
    l2 = [("μ", "i"), (" = ", "n"), ("m", "i"), ("HH", "isub"), (", PDF4LHC21_nnlo", "n")]
    out = rich(l1, x, y1, fs) + rich(l2, x, y2, fs)
    sx0 = x + sum(tw(t, fs) for t, _ in l1[:7])
    sx1 = sx0 + tw("S", fs) + 1
    yo = y1 - 0.80 * fs
    out.append(alt.Chart(ONE).mark_rule(color="black", strokeWidth=1).encode(
        x=alt.value(sx0 - 1), x2=alt.value(sx1), y=alt.value(yo), y2=alt.value(yo)))
    return out


def column(edges, W, hs, xdom, xmaj, xmin, tbx, main, r1, r2, r3, ytitle, xtitle, xdy,
           main_extra):
    rt = ["ratio - 1", "noMPI/noPY - 1", "PYh/noMPI -1"]
    p0 = panel(edges, main["sd"], W, hs[0], xdom, main["dom"], main["log"], xmaj, xmin,
               main["maj"], main["min"], main["fmt"],
               extra=rich(ytitle, tbx, hs[0] / 2.0, 20, angle=270, anchor="middle") + main_extra)
    ps = [p0]
    for k, (cfg, h) in enumerate(zip((r1, r2, r3), hs[1:])):
        ex = rich([(rt[k], "n")], tbx, h / 2.0, 16.5, angle=270, anchor="middle")
        if k == 2:
            ex += rich(xtitle, W / 2.0, h + xdy, 20, anchor="middle")
        ps.append(panel(edges, cfg["sd"], W, h, xdom, cfg["dom"], False, xmaj, xmin,
                        cfg["maj"], cfg["min"], cfg["fmt"], xlabels=(k == 2),
                        zero=(k > 0), extra=ex))
    return alt.vconcat(*ps, spacing=20, bounds="flush")


def rcfg(sd, dom, maj, mn, fmt):
    return dict(sd=sd, dom=dom, maj=maj, min=mn, fmt=fmt)


R1 = dict(dom=[-1.0, 1.0], maj=lin(-1.0, 1.0, 0.5), mn=lin(-1.0, 1.0, 0.1), fmt=".1f")

# ---------- top-left: m_HH ----------
TLW, TLH = 499, [291, 113, 113, 114]
tl = column(
    mhh_edges, TLW, TLH, [250, 1090], lin(300, 1000, 100), lin(260, 1080, 20), -50,
    dict(sd={"ft": main_sd(mhh_ft, mhh_ft_lo, mhh_ft_hi, mhh_ft_e),
             "bp": main_sd(mhh_bp, mhh_bp_lo, mhh_bp_hi, mhh_bp_e),
             "mt": main_sd(mhh_mt, mhh_mt_lo, mhh_mt_hi, mhh_mt_e)},
         dom=[-0.008, 0.2153], log=False, maj=lin(0.0, 0.2, 0.025), min=lin(-0.005, 0.215, 0.005),
         fmt=".3f"),
    rcfg({"ft": ratio_sd(mhh_r_ft, mhh_ft_lo, mhh_ft_hi, mhh_ft_e),
          "bp": ratio_sd(mhh_r_bp, mhh_bp_lo, mhh_bp_hi, mhh_bp_e),
          "mt": ratio_sd(mhh_r_mt, mhh_mt_lo, mhh_mt_hi, mhh_mt_e)}, **R1),
    rcfg({"ft": abs_sd(mhh_n_c, mhh_n_ft_lo, mhh_n_ft_hi, mhh_n_ft_e),
          "bp": abs_sd(mhh_n_c, mhh_n_bp_lo, mhh_n_bp_hi, mhh_n_bp_e),
          "mt": abs_sd(mhh_n_c, mhh_n_mt_lo, mhh_n_mt_hi, mhh_n_mt_e)},
         [-0.4, 0.4], lin(-0.4, 0.4, 0.2), lin(-0.4, 0.4, 0.05), ".1f"),
    rcfg({"ft": abs_sd(mhh_n_c, mhh_n_ft_lo, mhh_n_ft_hi, mhh_n_ft_e),
          "bp": abs_sd(mhh_n_c, mhh_n_bp_lo, mhh_n_bp_hi, mhh_n_bp_e),
          "mt": abs_sd(mhh_n_c, mhh_n_mt_lo, mhh_n_mt_hi, mhh_n_mt_e)},
         [-0.4, 0.4], lin(-0.4, 0.4, 0.2), lin(-0.4, 0.4, 0.05), ".1f"),
    [("d", "n"), ("σ", "i"), ("/d", "n"), ("m", "i"), ("HH", "isub"), (" [fb/GeV]", "n")],
    [("m", "i"), ("HH", "isub"), (" [GeV]", "n")], 39,
    legend((218, 23, 473, 122), (224, 267), 284, (41, 74, 105)) + annot(210, 155, 178))

# ---------- top-right: pT^HH ----------
TRW, TRH = 499, [285, 114, 113, 114]
R2HH = dict(dom=[-0.75, 0.75], maj=[-0.5, 0.0, 0.5], mn=lin(-0.7, 0.7, 0.1), fmt=".1f")
pthh_n = {"ft": abs_sd(pthh_n_ft_c, pthh_n_ft_lo, pthh_n_ft_hi, pthh_n_ft_e),
          "bp": abs_sd(pthh_n_bp_c, pthh_n_bp_lo, pthh_n_bp_hi, pthh_n_bp_e),
          "mt": abs_sd(pthh_n_mt_c, pthh_n_mt_lo, pthh_n_mt_hi, pthh_n_mt_e)}
tr = column(
    pthh_edges, TRW, TRH, [0, 1080], lin(0, 1000, 200), lin(0, 1050, 50), -47,
    dict(sd={"ft": main_sd(pthh_ft, pthh_ft_lo, pthh_ft_hi, pthh_ft_e),
             "bp": main_sd(pthh_bp, pthh_bp_lo, pthh_bp_hi, pthh_bp_e),
             "mt": main_sd(pthh_mt, pthh_mt_lo, pthh_mt_hi, pthh_mt_e)},
         dom=[1.05e-6, 0.525], log=True, maj=LOGMAJ, min=LOGMIN, fmt="log"),
    rcfg({"ft": ratio_sd(pthh_r_ft, pthh_ft_lo, pthh_ft_hi, pthh_ft_e),
          "bp": ratio_sd(pthh_r_bp, pthh_bp_lo, pthh_bp_hi, pthh_bp_e),
          "mt": ratio_sd(pthh_r_mt, pthh_mt_lo, pthh_mt_hi, pthh_mt_e)}, **R1),
    rcfg(pthh_n, **R2HH),
    rcfg(pthh_n, **R2HH),
    [("d", "n"), ("σ", "i"), ("/d", "n"), ("p", "i"), ("T", "isub", False), ("HH", "isup"),
     (" [fb/GeV]", "n")],
    [("p", "i"), ("T", "isub", False), ("HH", "isup"), (" [GeV]", "n")], 40,
    legend((13, 169, 268, 271), (20, 63), 78, (186, 219, 250)) + annot(213, 41, 63))

# ---------- bottom-left: pT^H1 ----------
BLW, BLH = 487, [295, 111, 111, 111]
bl = column(
    pth1_edges, BLW, BLH, [0, 500], lin(0, 500, 100), lin(0, 500, 20), -45,
    dict(sd={"ft": main_sd(pth1_ft, pth1_ft_lo, pth1_ft_hi, pth1_ft_e),
             "bp": main_sd(pth1_bp, pth1_bp_lo, pth1_bp_hi, pth1_bp_e),
             "mt": main_sd(pth1_mt, pth1_mt_lo, pth1_mt_hi, pth1_mt_e)},
         dom=[4.5e-5, 0.61], log=True, maj=LOGMAJ, min=LOGMIN, fmt="log"),
    rcfg({"ft": ratio_sd(pth1_r_ft, pth1_ft_lo, pth1_ft_hi, pth1_ft_e),
          "bp": ratio_sd(pth1_r_bp, pth1_bp_lo, pth1_bp_hi, pth1_bp_e),
          "mt": ratio_sd(pth1_r_mt, pth1_mt_lo, pth1_mt_hi, pth1_mt_e)}, **R1),
    rcfg({"ft": abs_sd(pth1_n_ft_c, pth1_n_ft_lo, pth1_n_ft_hi, pth1_n_ft_e),
          "bp": abs_sd(pth1_n_bp_c, pth1_n_bp_lo, pth1_n_bp_hi, pth1_n_bp_e),
          "mt": abs_sd(pth1_n_mt_c, pth1_n_mt_lo, pth1_n_mt_hi, pth1_n_mt_e)}, **R1),
    rcfg({"ft": abs_sd(pth1_p_ft_c, pth1_p_ft_lo, pth1_p_ft_hi, pth1_p_ft_e),
          "bp": abs_sd(pth1_p_bp_c, pth1_p_bp_lo, pth1_p_bp_hi, pth1_p_bp_e),
          "mt": abs_sd(pth1_p_mt_c, pth1_p_mt_lo, pth1_p_mt_hi, pth1_p_mt_e)},
         [-0.75, 0.75], [-0.5, 0.0, 0.5], lin(-0.7, 0.7, 0.1), ".1f"),
    [("d", "n"), ("σ", "i"), ("/d", "n"), ("p", "i"), ("T", "isub", False), ("H₁", "isup"),
     (" [fb/GeV]", "n")],
    [("p", "i"), ("T", "isub", False), ("H₁", "isup"), (" [GeV]", "n")], 41,
    annot(86, 147, 169) + legend((83, 183, 333, 280), (90, 133), 148, (199, 231, 262)))

# ---------- bottom-right: T0 ----------
BRW, BRH = 506, [288, 113, 114, 115]
br = column(
    t0_edges, BRW, BRH, [0, 780], lin(0, 700, 100), lin(0, 780, 20), -45,
    dict(sd={"ft": main_sd(t0_ft, t0_ft_lo, t0_ft_hi, t0_ft_e),
             "bp": main_sd(t0_bp, t0_bp_lo, t0_bp_hi, t0_bp_e),
             "mt": main_sd(t0_mt, t0_mt_lo, t0_mt_hi, t0_mt_e)},
         dom=[1.1e-7, 0.52], log=True, maj=LOGMAJ, min=LOGMIN, fmt="log"),
    rcfg({"ft": ratio_sd(t0_r_ft, t0_ft_lo, t0_ft_hi, t0_ft_e),
          "bp": ratio_sd(t0_r_bp, t0_bp_lo, t0_bp_hi, t0_bp_e),
          "mt": ratio_sd(t0_r_mt, t0_mt_lo, t0_mt_hi, t0_mt_e)}, **R1),
    rcfg({"ft": abs_sd(t0_n_ft_c, t0_n_ft_lo, t0_n_ft_hi, t0_n_ft_e),
          "bp": abs_sd(t0_n_bp_c, t0_n_bp_lo, t0_n_bp_hi, t0_n_bp_e),
          "mt": abs_sd(t0_n_mt_c, t0_n_mt_lo, t0_n_mt_hi, t0_n_mt_e)},
         [-1.25, 1.25], [-1.0, 0.0, 1.0], lin(-1.25, 1.25, 0.25), "d"),
    rcfg({"ft": abs_sd(t0_p_ft_c, t0_p_ft_lo, t0_p_ft_hi, t0_p_ft_e),
          "bp": abs_sd(t0_p_bp_c, t0_p_bp_lo, t0_p_bp_hi, t0_p_bp_e),
          "mt": abs_sd(t0_p_mt_c, t0_p_mt_lo, t0_p_mt_hi, t0_p_mt_e)},
         [-1.2, 3.2], [0.0, 2.0], lin(-1.0, 3.0, 0.5), "d"),
    [("d", "n"), ("σ", "i"), ("/d", "n"), ("T", "i"), ("0", "sub"), (" [fb/GeV]", "n")],
    [("T", "i"), ("0", "sub"), (" [GeV]", "n")], 41,
    annot(212, 38, 61) + legend((27, 168, 287, 273), (35, 78), 93, (186, 218, 249)))

row1 = alt.hconcat(tl, tr, spacing=27)
row2 = alt.hconcat(bl, br, spacing=25)
chart = alt.vconcat(row1, row2, spacing=-7).properties(
    padding={"left": 14, "top": 7, "right": 3, "bottom": 0}, background="white"
).configure_view(stroke="black", strokeWidth=1.2)

chart.save("out.html", embed_options={"renderer": "svg", "actions": False})
